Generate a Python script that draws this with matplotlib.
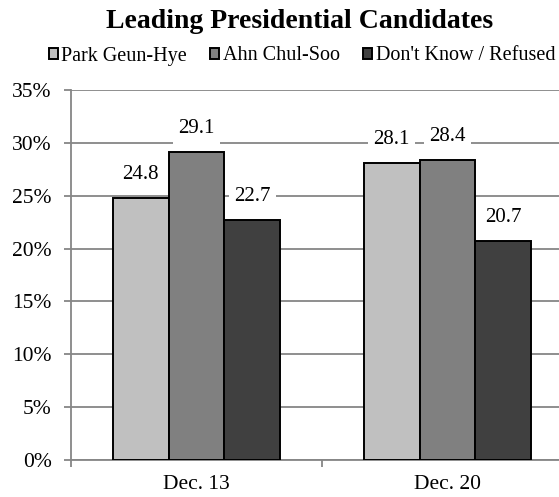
import matplotlib
matplotlib.use("Agg")
import matplotlib.pyplot as plt
import numpy as np
from matplotlib.ticker import FixedLocator, FuncFormatter

plt.rcParams['font.family'] = ['Liberation Serif', 'DejaVu Serif']

dates = ["Dec. 13", "Dec. 20"]
series_names = ["Park Geun-Hye", "Ahn Chul-Soo", "Don't Know / Refused"]
park = [24.8, 28.1]
ahn = [29.1, 28.4]
dont_know = [22.7, 20.7]
series_values = [park, ahn, dont_know]
colors = ["#C0C0C0", "#808080", "#404040"]
y_ticks = [0, 5, 10, 15, 20, 25, 30, 35]

fig = plt.figure(figsize=(5.59, 4.97), dpi=100)
ax = fig.add_axes([71 / 559, 37 / 497, 502 / 559, 370 / 497])

x = np.arange(len(dates))
bar_w = 0.222
grid_c = "#868686"

for i, (name, vals, c) in enumerate(zip(series_names, series_values, colors)):
    pos = x + (i - 1) * bar_w
    ax.bar(pos, vals, width=bar_w, color=c, edgecolor="black",
           linewidth=1.4, label=name, zorder=3)
    for xp, v in zip(pos, vals):
        ax.annotate(f"{v:.1f}", xy=(xp, v), xytext=(0, 10),
                    textcoords="offset points", ha="center", va="bottom",
                    fontsize=15, zorder=5,
                    bbox=dict(boxstyle="square,pad=0.25", fc="white", ec="none"))

ax.set_xlim(-0.5, 1.5)
ax.set_ylim(0, 35)
ax.yaxis.set_major_locator(FixedLocator(y_ticks))
ax.yaxis.set_major_formatter(FuncFormatter(lambda v, p: f"{v:.0f}%"))
ax.grid(axis="y", color=grid_c, linewidth=1.3, zorder=0)
ax.set_axisbelow(True)

ax.set_xticks(x)
ax.set_xticklabels(dates)
ax.set_xticks([-0.5, 0.5], minor=True)
ax.tick_params(axis="x", which="major", length=0, pad=11, labelsize=15.5)
ax.tick_params(axis="x", which="minor", length=5, width=1.3, color=grid_c)
ax.tick_params(axis="y", length=5, width=1.3, color=grid_c, labelsize=15.5, pad=9)

for s in ["top", "right"]:
    ax.spines[s].set_visible(False)
for s in ["left", "bottom"]:
    ax.spines[s].set_color(grid_c)
    ax.spines[s].set_linewidth(1.3)

fig.text(300 / 559, 1 - 21 / 497, "Leading Presidential Candidates",
         ha="center", va="center", fontsize=20, fontweight="bold")

fig.legend(loc="center", bbox_to_anchor=(302 / 559, 1 - 56 / 497), ncol=3,
           frameon=False, fontsize=14.5, handlelength=0.45, handleheight=0.45,
           handletextpad=0.18, columnspacing=1.15, borderaxespad=0,
           borderpad=0)

fig.savefig("out.png", dpi=100)
